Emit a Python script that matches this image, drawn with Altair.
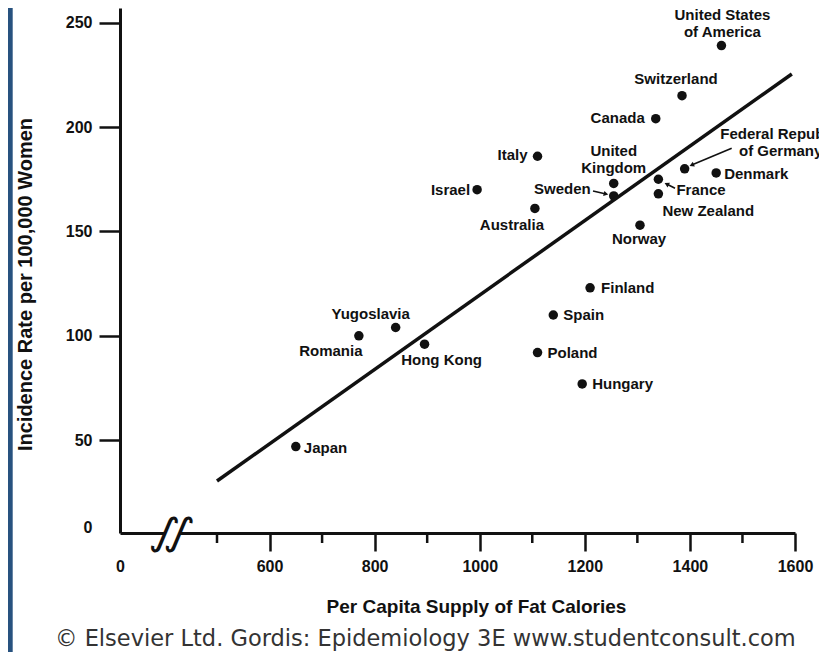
import math
import altair as alt
import pandas as pd

# ---------------- data ----------------
countries = ["United States of America", "Switzerland", "Canada", "Italy", "Israel",
             "United Kingdom", "Sweden", "France", "New Zealand",
             "Federal Republic of Germany", "Denmark", "Australia", "Norway",
             "Finland", "Spain", "Poland", "Hungary", "Japan", "Yugoslavia",
             "Romania", "Hong Kong"]
fat_calories = [1460, 1385, 1335, 1110, 995, 1255, 1255, 1340, 1340, 1390, 1450,
                1105, 1305, 1210, 1140, 1110, 1195, 650, 840, 770, 895]
incidence = [239, 215, 204, 186, 170, 173, 167, 175, 168, 180, 178,
             161, 153, 123, 110, 92, 77, 47, 104, 100, 96]
point_labels = ["United States\nof America", "Switzerland", "Canada", "Italy", "Israel",
                "United\nKingdom", "Sweden", "France", "New Zealand",
                "Federal Republic\nof Germany", "Denmark", "Australia", "Norway",
                "Finland", "Spain", "Poland", "Hungary", "Japan", "Yugoslavia",
                "Romania", "Hong Kong"]

fit_x = [500, 1594]
fit_y = [30.5, 225.4]

x_ticks = [600, 800, 1000, 1200, 1400, 1600]
x_minor_ticks = [500, 700, 900, 1100, 1300, 1500]
y_ticks = [50, 100, 150, 200, 250]

# leader arrows (label -> point), data units
arrow_names = ["Sweden", "France", "Federal Republic of Germany"]
arrow_x1 = [1215.6, 1371.6, 1479.5]
arrow_y1 = [169.4, 170.7, 189.8]
arrow_x2 = [1240.3, 1355.8, 1403.4]
arrow_y2 = [167.9, 172.7, 181.8]

axis_break_x = [401, 429]
copyright_text = "\u00a9 Elsevier Ltd. Gordis: Epidemiology 3E www.studentconsult.com"

# ---------------- layout / style ----------------
W, H = 675, 525
X_DOM = [315.4, 1600]
Y_DOM = [5.6, 257]
KX = W / (X_DOM[1] - X_DOM[0])
KY = H / (Y_DOM[1] - Y_DOM[0])
FONT = "Liberation Sans, Arial, sans-serif"
INK = "#111111"

# label placement: (align, dx px, dy px of first line centre)
label_layout = {
    "United States of America": ("center", 1, -31),
    "Switzerland": ("center", -6, -17),
    "Canada": ("right", -11, -1),
    "Italy": ("right", -10, -1),
    "Israel": ("right", -7, 0),
    "United Kingdom": ("center", 0, -32),
    "Sweden": ("right", -23, -7),
    "France": ("left", 18, 11),
    "New Zealand": ("left", 4, 17),
    "Federal Republic of Germany": ("center", 96, -35),
    "Denmark": ("left", 8, 1),
    "Australia": ("center", -23, 17),
    "Norway": ("center", -1, 14),
    "Finland": ("left", 11, 0),
    "Spain": ("left", 10, 0),
    "Poland": ("left", 10, 0),
    "Hungary": ("left", 10, 0),
    "Japan": ("left", 8, 1),
    "Yugoslavia": ("center", -25, -14),
    "Romania": ("center", -28, 15),
    "Hong Kong": ("center", 17, 16),
}

df = pd.DataFrame({"country": countries, "fat": fat_calories,
                   "rate": incidence, "label": point_labels})
df["align"] = [label_layout[c][0] for c in countries]
df["lx"] = [x + label_layout[c][1] / KX for c, x in zip(countries, fat_calories)]
df["ly"] = [y - label_layout[c][2] / KY for c, y in zip(countries, incidence)]

fit_df = pd.DataFrame({"fat": fit_x, "rate": fit_y})
arrows = pd.DataFrame({"name": arrow_names, "x1": arrow_x1, "y1": arrow_y1,
                       "x2": arrow_x2, "y2": arrow_y2})
arrows["ang"] = [
    math.degrees(math.atan2((b - a) * KX, (d - c) * KY)) % 360
    for a, b, c, d in zip(arrow_x1, arrow_x2, arrow_y1, arrow_y2)
]

xs = alt.Scale(domain=X_DOM, nice=False, zero=False)
ys = alt.Scale(domain=Y_DOM, nice=False, zero=False)

x_axis = alt.Axis(
    values=[X_DOM[0]] + x_ticks, format="d",
    labelExpr="datum.value < 400 ? '0' : datum.label",
    tickOpacity={"condition": {"test": "datum.value < 400", "value": 0}, "value": 1},
    tickSize=18, labelPadding=20, labelBaseline="alphabetic", labelFlush=False,
    labelOverlap=False,
    title="Per Capita Supply of Fat Calories",
    titleX=356, titleY=79, titleAlign="center", titleBaseline="alphabetic",
)
y_axis = alt.Axis(
    values=[8] + y_ticks, format="d",
    labelExpr="datum.value < 20 ? '0' : datum.label",
    tickOpacity={"condition": {"test": "datum.value < 20", "value": 0}, "value": 1},
    tickSize=21, labelPadding=7, labelFlush=False, labelOverlap=False,
    title="Incidence Rate per 100,000 Women",
    titleAngle=270, titleX=-89, titleY=276, titleAlign="center",
    titleBaseline="alphabetic", titleFontSize=20,
)


def X(field):
    return alt.X(field, scale=xs, axis=x_axis)


def Y(field):
    return alt.Y(field, scale=ys, axis=y_axis)


one = pd.DataFrame({"t": [copyright_text]})

blue_strip = alt.Chart(one).mark_rect(color="#28527f").encode(
    x=alt.value(-112), x2=alt.value(-107.3), y=alt.value(0), y2=alt.value(644))

points = alt.Chart(df).mark_circle(color=INK, opacity=1, size=90).encode(
    x=X("fat:Q"), y=Y("rate:Q"))

fit = alt.Chart(fit_df).mark_line(color=INK, strokeWidth=3.5).encode(
    x=X("fat:Q"), y=Y("rate:Q"))

label_layers = []
for a in ["left", "right", "center"]:
    label_layers.append(
        alt.Chart(df[df["align"] == a]).mark_text(
            align=a, baseline="middle", lineBreak="\n", lineHeight=17,
            font=FONT, fontSize=15, fontWeight="bold", color=INK,
        ).encode(x=X("lx:Q"), y=Y("ly:Q"), text="label:N")
    )

arrow_lines = alt.Chart(arrows).mark_rule(color=INK, strokeWidth=1.6).encode(
    x=X("x1:Q"), y=Y("y1:Q"), x2="x2:Q", y2="y2:Q")
arrow_heads = alt.Chart(arrows).mark_point(
    shape="triangle-up", filled=True, color=INK, size=28, opacity=1).encode(
    x=X("x2:Q"), y=Y("y2:Q"), angle=alt.Angle("ang:Q", scale=None))

minor = alt.Chart(pd.DataFrame({"v": x_minor_ticks})).mark_rule(
    color=INK, strokeWidth=2.5).encode(
    x=X("v:Q"), y=alt.value(H), y2=alt.value(H + 10))

brk_df = pd.DataFrame({"bx": axis_break_x, "by": [Y_DOM[0]] * len(axis_break_x)})
gap = alt.Chart(brk_df).mark_rule(color="white", strokeWidth=6).encode(
    x=alt.X("min(bx):Q", scale=xs, axis=x_axis), x2="max(bx):Q",
    y=alt.Y("min(by):Q", scale=ys, axis=y_axis))
brk = alt.Chart(brk_df).mark_text(
    text="\u222b", font="DejaVu Sans", fontSize=42, angle=20,
    align="center", baseline="middle", color=INK).encode(
    x=X("bx:Q"), y=Y("by:Q"))

copyright_mark = alt.Chart(one).mark_text(
    align="left", baseline="alphabetic", font="DejaVu Sans", fontSize=22.5,
    color="#333333").encode(text="t:N", x=alt.value(-65), y=alt.value(638))

chart = alt.layer(
    points, blue_strip, fit, *label_layers, arrow_lines, arrow_heads,
    minor, gap, brk, copyright_mark,
).properties(
    width=W, height=H,
    autosize=alt.AutoSizeParams(type="none"),
    padding={"left": 112, "top": 0, "right": 24, "bottom": 119},
    background="white",
).configure_view(stroke=None).configure_axis(
    grid=False, domainColor=INK, domainWidth=3, tickColor=INK, tickWidth=2.5,
    labelColor=INK, labelFont=FONT, labelFontSize=16, labelFontWeight="bold",
    titleFont=FONT, titleFontSize=19, titleFontWeight="bold", titleColor=INK,
)

chart.save("out.html", embed_options={"renderer": "svg", "actions": False})
